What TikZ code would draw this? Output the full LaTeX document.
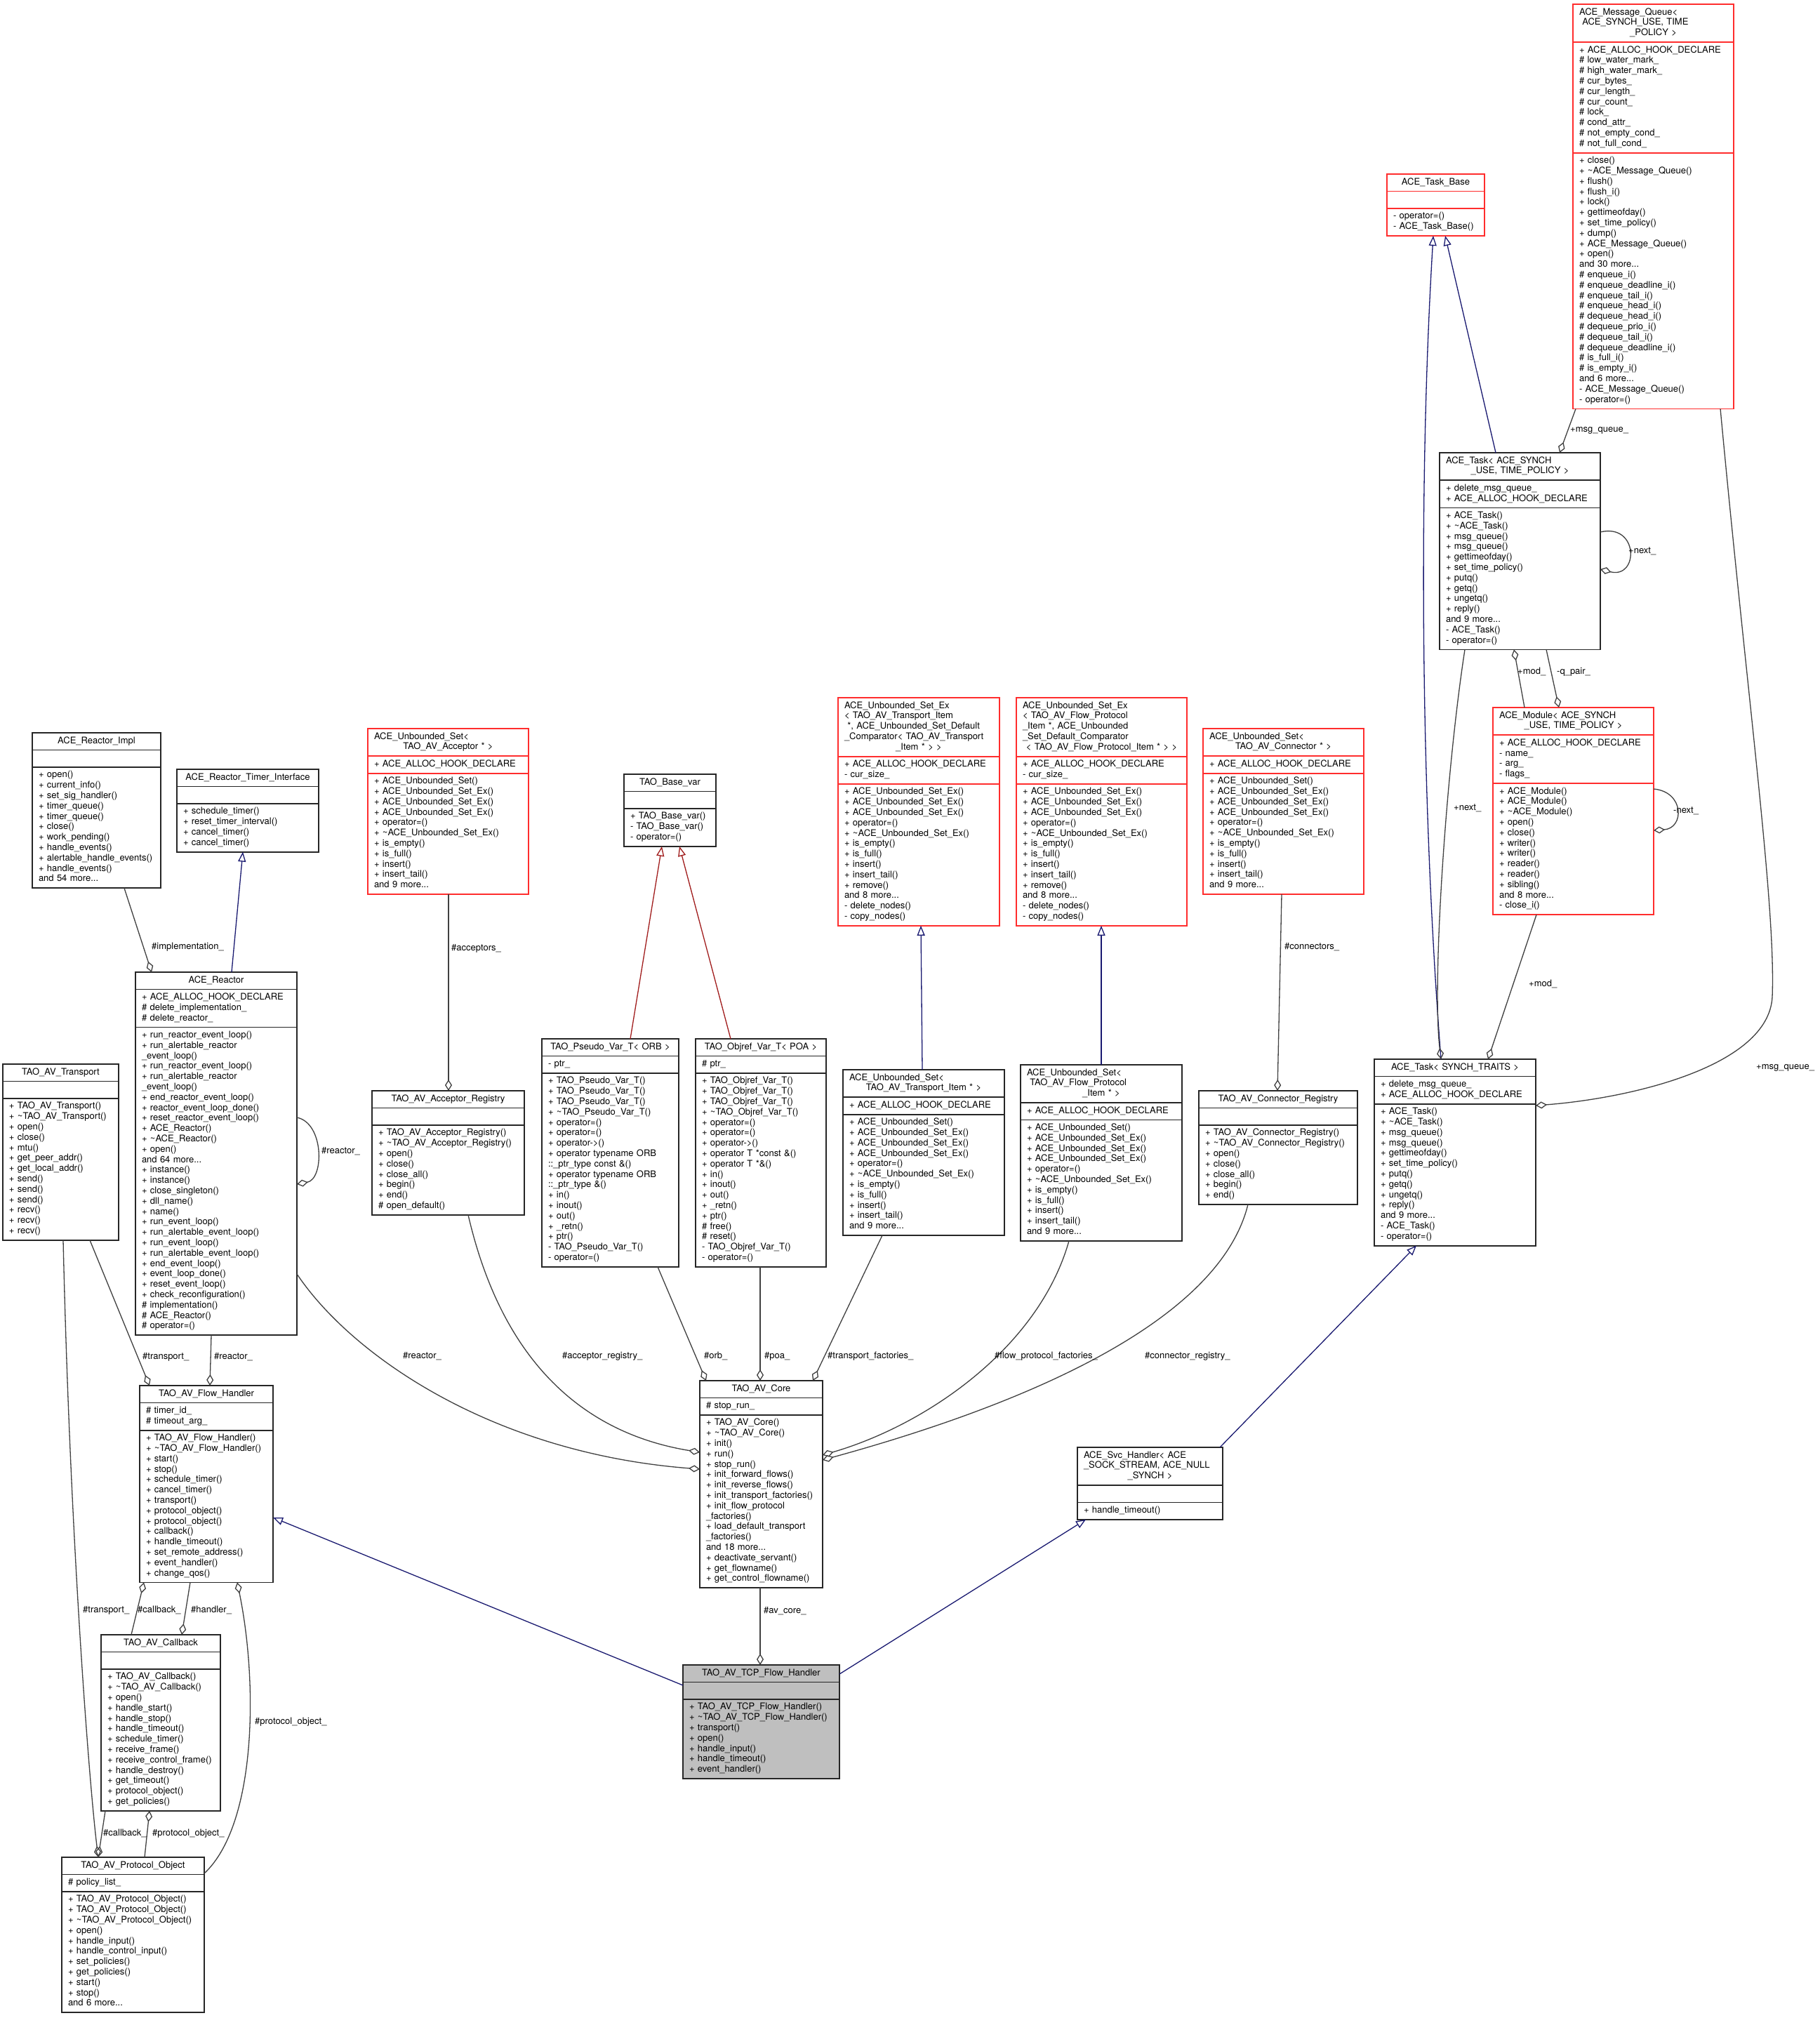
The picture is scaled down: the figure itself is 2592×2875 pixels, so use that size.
\documentclass[tikz,border=0pt]{standalone}
\usepackage{fontspec}
\setmainfont{TeX Gyre Heros}
\usetikzlibrary{arrows.meta,fit}
\definecolor{edgegray}{HTML}{404040}
\definecolor{inhblue}{HTML}{191970}
\definecolor{inhred}{HTML}{A01C1C}
\definecolor{boxred}{HTML}{FF2D2D}
\definecolor{boxline}{HTML}{262626}
\setlength\parindent{0pt}
\newcommand\fs{\fontsize{13}{14.8}\selectfont}
\newcommand\ls[1]{\begin{tabular}{@{}l@{}}#1\end{tabular}}
\newcommand\ti{\hspace*{9pt}}
\tikzset{
  part/.style={draw=boxline, line width=1.8pt, inner xsep=0pt, inner ysep=4.8pt, outer sep=0pt, anchor=north west, font=\fs, align=left},
  tpart/.style={part},
  bpart/.style={part},
  norm/.style={},
  redb/.style={draw=boxred},
  focus/.style={fill=gray!50},
  agg/.style={draw=edgegray, line width=1.3pt, -{Diamond[open,length=16pt,width=10pt]}},
  inh/.style={draw=inhblue, line width=1.3pt, -{Triangle[open,length=14pt,width=11pt]}},
  inhr/.style={inh, draw=inhred},
  lab/.style={font=\fs, inner sep=0pt, anchor=west},
}
% #1 name, #2 x, #3 y, #4 width, #5 style, #6 left title lines (each ending \\), #7 centred last title line, #8 attributes, #9 methods
\newcommand\cls[9]{%
  \node[tpart,#5,text width=#4pt] (#1-t) at (#2,#3) {\ls{#6\makebox[#4pt][c]{#7}}};
  \node[bpart,#5,text width=#4pt] (#1-a) at (#1-t.south west) {\ti\ls{#8}};
  \node[bpart,#5,text width=#4pt] (#1-m) at (#1-a.south west) {\ti\ls{#9}};
  \node[fit=(#1-t)(#1-m),inner sep=0pt,outer sep=0pt] (#1) {};
}
\catcode`\_=12
\catcode`\~=12
\newcommand\taskmeth{+ ACE_Task()\\+ ~ACE_Task()\\+ msg_queue()\\+ msg_queue()\\+ gettimeofday()\\+ set_time_policy()\\+ putq()\\+ getq()\\+ ungetq()\\+ reply()\\and 9 more...\\- ACE_Task()\\- operator=()}
\newcommand\taskattr{+ delete_msg_queue_\\+ ACE_ALLOC_HOOK_DECLARE}
\newcommand\setmeth{+ ACE_Unbounded_Set()\\+ ACE_Unbounded_Set_Ex()\\+ ACE_Unbounded_Set_Ex()\\+ ACE_Unbounded_Set_Ex()\\+ operator=()\\+ ~ACE_Unbounded_Set_Ex()\\+ is_empty()\\+ is_full()\\+ insert()\\+ insert_tail()\\and 9 more...}
\newcommand\setexmeth{+ ACE_Unbounded_Set_Ex()\\+ ACE_Unbounded_Set_Ex()\\+ ACE_Unbounded_Set_Ex()\\+ operator=()\\+ ~ACE_Unbounded_Set_Ex()\\+ is_empty()\\+ is_full()\\+ insert()\\+ insert_tail()\\+ remove()\\and 8 more...\\- delete_nodes()\\- copy_nodes()}
\newcommand\hook{+ ACE_ALLOC_HOOK_DECLARE}
\begin{document}
\begin{tikzpicture}[x=1pt,y=-1pt]
\useasboundingbox (0,0) rectangle (2592,2875);
\fill[white] (0,0) rectangle (2592,2875);

% ---------- classes ----------
\cls{mq}{2241}{6}{229}{redb}{\ti ACE_Message_Queue<\\\ti\ ACE_SYNCH_USE, TIME\\}{_POLICY >}
 {+ ACE_ALLOC_HOOK_DECLARE\\\# low_water_mark_\\\# high_water_mark_\\\# cur_bytes_\\\# cur_length_\\\# cur_count_\\\# lock_\\\# cond_attr_\\\# not_empty_cond_\\\# not_full_cond_}
 {+ close()\\+ ~ACE_Message_Queue()\\+ flush()\\+ flush_i()\\+ lock()\\+ gettimeofday()\\+ set_time_policy()\\+ dump()\\+ ACE_Message_Queue()\\+ open()\\and 30 more...\\\# enqueue_i()\\\# enqueue_deadline_i()\\\# enqueue_tail_i()\\\# enqueue_head_i()\\\# dequeue_head_i()\\\# dequeue_prio_i()\\\# dequeue_tail_i()\\\# dequeue_deadline_i()\\\# is_full_i()\\\# is_empty_i()\\and 6 more...\\- ACE_Message_Queue()\\- operator=()}
\cls{taskbase}{1976}{248}{139}{redb}{}{ACE_Task_Base}{\strut}{- operator=()\\- ACE_Task_Base()}
\cls{taskA}{2051}{645}{229}{norm}{\ti ACE_Task< ACE_SYNCH\\}{_USE, TIME_POLICY >}{\taskattr}{\taskmeth}
\cls{module}{2127}{1008}{229}{redb}{\ti ACE_Module< ACE_SYNCH\\}{_USE, TIME_POLICY >}
 {+ ACE_ALLOC_HOOK_DECLARE\\- name_\\- arg_\\- flags_}
 {+ ACE_Module()\\+ ACE_Module()\\+ ~ACE_Module()\\+ open()\\+ close()\\+ writer()\\+ writer()\\+ reader()\\+ reader()\\+ sibling()\\and 8 more...\\- close_i()}
\cls{taskS}{1958}{1509}{230}{norm}{}{ACE_Task< SYNCH_TRAITS >}{\taskattr}{\taskmeth}
\cls{svc}{1535}{2062}{207}{norm}{\ti ACE_Svc_Handler< ACE\\\ti _SOCK_STREAM, ACE_NULL\\}{_SYNCH >}{\strut}{+ handle_timeout()}
\cls{tcp}{973}{2372}{223}{focus}{}{TAO_AV_TCP_Flow_Handler}{\strut}
 {+ TAO_AV_TCP_Flow_Handler()\\+ ~TAO_AV_TCP_Flow_Handler()\\+ transport()\\+ open()\\+ handle_input()\\+ handle_timeout()\\+ event_handler()}
\cls{core}{997}{1967}{175}{norm}{}{TAO_AV_Core}{\# stop_run_}
 {+ TAO_AV_Core()\\+ ~TAO_AV_Core()\\+ init()\\+ run()\\+ stop_run()\\+ init_forward_flows()\\+ init_reverse_flows()\\+ init_transport_factories()\\+ init_flow_protocol\\_factories()\\+ load_default_transport\\_factories()\\and 18 more...\\+ deactivate_servant()\\+ get_flowname()\\+ get_control_flowname()}
\cls{connreg}{1708}{1554}{226}{norm}{}{TAO_AV_Connector_Registry}{\strut}
 {+ TAO_AV_Connector_Registry()\\+ ~TAO_AV_Connector_Registry()\\+ open()\\+ close()\\+ close_all()\\+ begin()\\+ end()}
\cls{connset}{1714}{1038}{229}{redb}{\ti ACE_Unbounded_Set<\\}{TAO_AV_Connector * >}{\hook}{\setmeth}
\cls{fpex}{1448}{994}{243}{redb}{\ti ACE_Unbounded_Set_Ex\\\ti < TAO_AV_Flow_Protocol\\\ti _Item *, ACE_Unbounded\\\ti _Set_Default_Comparator\\}{< TAO_AV_Flow_Protocol_Item * > >}{\hook\\- cur_size_}{\setexmeth}
\cls{trex}{1194}{994}{230}{redb}{\ti ACE_Unbounded_Set_Ex\\\ti < TAO_AV_Transport_Item\\\ti\ *, ACE_Unbounded_Set_Default\\\ti _Comparator< TAO_AV_Transport\\}{_Item * > >}{\hook\\- cur_size_}{\setexmeth}
\cls{fpset}{1454}{1517}{230}{norm}{\ti ACE_Unbounded_Set<\\\ti\ TAO_AV_Flow_Protocol\\}{_Item * >}{\hook}{\setmeth}
\cls{trset}{1201}{1524}{230}{norm}{\ti ACE_Unbounded_Set<\\}{TAO_AV_Transport_Item * >}{\hook}{\setmeth}
\cls{basevar}{889}{1103}{131}{norm}{}{TAO_Base_var}{\strut}{+ TAO_Base_var()\\- TAO_Base_var()\\- operator=()}
\cls{pseudo}{772}{1480}{195}{norm}{}{TAO_Pseudo_Var_T< ORB >}{- ptr_}
 {+ TAO_Pseudo_Var_T()\\+ TAO_Pseudo_Var_T()\\+ TAO_Pseudo_Var_T()\\+ ~TAO_Pseudo_Var_T()\\+ operator=()\\+ operator=()\\+ operator->()\\+ operator typename ORB\\::_ptr_type const \&()\\+ operator typename ORB\\::_ptr_type \&()\\+ in()\\+ inout()\\+ out()\\+ _retn()\\+ ptr()\\- TAO_Pseudo_Var_T()\\- operator=()}
\cls{objref}{991}{1480}{186}{norm}{}{TAO_Objref_Var_T< POA >}{\# ptr_}
 {+ TAO_Objref_Var_T()\\+ TAO_Objref_Var_T()\\+ TAO_Objref_Var_T()\\+ ~TAO_Objref_Var_T()\\+ operator=()\\+ operator=()\\+ operator->()\\+ operator T *const \&()\\+ operator T *\&()\\+ in()\\+ inout()\\+ out()\\+ _retn()\\+ ptr()\\\# free()\\\# reset()\\- TAO_Objref_Var_T()\\- operator=()}
\cls{accset}{524}{1038}{229}{redb}{\ti ACE_Unbounded_Set<\\}{TAO_AV_Acceptor * >}{\hook}{\setmeth}
\cls{accreg}{530}{1554}{217}{norm}{}{TAO_AV_Acceptor_Registry}{\strut}
 {+ TAO_AV_Acceptor_Registry()\\+ ~TAO_AV_Acceptor_Registry()\\+ open()\\+ close()\\+ close_all()\\+ begin()\\+ end()\\\# open_default()}
\cls{rimpl}{46}{1044}{183}{norm}{}{ACE_Reactor_Impl}{\strut}
 {+ open()\\+ current_info()\\+ set_sig_handler()\\+ timer_queue()\\+ timer_queue()\\+ close()\\+ work_pending()\\+ handle_events()\\+ alertable_handle_events()\\+ handle_events()\\and 54 more...}
\cls{timer}{252}{1096}{202}{norm}{}{ACE_Reactor_Timer_Interface}{\strut}
 {+ schedule_timer()\\+ reset_timer_interval()\\+ cancel_timer()\\+ cancel_timer()}
\cls{reactor}{193}{1385}{230}{norm}{}{ACE_Reactor}
 {+ ACE_ALLOC_HOOK_DECLARE\\\# delete_implementation_\\\# delete_reactor_}
 {+ run_reactor_event_loop()\\+ run_alertable_reactor\\_event_loop()\\+ run_reactor_event_loop()\\+ run_alertable_reactor\\_event_loop()\\+ end_reactor_event_loop()\\+ reactor_event_loop_done()\\+ reset_reactor_event_loop()\\+ ACE_Reactor()\\+ ~ACE_Reactor()\\+ open()\\and 64 more...\\+ instance()\\+ instance()\\+ close_singleton()\\+ dll_name()\\+ name()\\+ run_event_loop()\\+ run_alertable_event_loop()\\+ run_event_loop()\\+ run_alertable_event_loop()\\+ end_event_loop()\\+ event_loop_done()\\+ reset_event_loop()\\+ check_reconfiguration()\\\# implementation()\\\# ACE_Reactor()\\\# operator=()}
\cls{transport}{4}{1516}{165}{norm}{}{TAO_AV_Transport}{\strut}
 {+ TAO_AV_Transport()\\+ ~TAO_AV_Transport()\\+ open()\\+ close()\\+ mtu()\\+ get_peer_addr()\\+ get_local_addr()\\+ send()\\+ send()\\+ send()\\+ recv()\\+ recv()\\+ recv()}
\cls{flow}{199}{1974}{190}{norm}{}{TAO_AV_Flow_Handler}{\# timer_id_\\\# timeout_arg_}
 {+ TAO_AV_Flow_Handler()\\+ ~TAO_AV_Flow_Handler()\\+ start()\\+ stop()\\+ schedule_timer()\\+ cancel_timer()\\+ transport()\\+ protocol_object()\\+ protocol_object()\\+ callback()\\+ handle_timeout()\\+ set_remote_address()\\+ event_handler()\\+ change_qos()}
\cls{callback}{144}{2329}{170}{norm}{}{TAO_AV_Callback}{\strut}
 {+ TAO_AV_Callback()\\+ ~TAO_AV_Callback()\\+ open()\\+ handle_start()\\+ handle_stop()\\+ handle_timeout()\\+ schedule_timer()\\+ receive_frame()\\+ receive_control_frame()\\+ handle_destroy()\\+ get_timeout()\\+ protocol_object()\\+ get_policies()}
\cls{proto}{88}{2646}{203}{norm}{}{TAO_AV_Protocol_Object}{\# policy_list_}
 {+ TAO_AV_Protocol_Object()\\+ TAO_AV_Protocol_Object()\\+ ~TAO_AV_Protocol_Object()\\+ open()\\+ handle_input()\\+ handle_control_input()\\+ set_policies()\\+ get_policies()\\+ start()\\+ stop()\\and 6 more...}

% ---------- inheritance ----------
\draw[inh] (2131,0 |- taskA.north) -- (2059,0 |- taskbase.south);
\draw[inh] (2053,0 |- taskS.north) .. controls (2025,1150) and (2020,700) .. (2042,0 |- taskbase.south);
\draw[inh] (1738,0 |- svc.north) -- (2018,0 |- taskS.south);
\draw[inh] (tcp.east |- 0,2385) -- (1547,0 |- svc.south);
\draw[inh] (tcp.west |- 0,2401) -- (flow.east |- 0,2162);
\draw[inh] (330,0 |- reactor.north) -- (346,0 |- timer.south);
\draw[inh] (1314,0 |- trset.north) -- (1312,0 |- trex.south);
\draw[inh] (1569,0 |- fpset.north) -- (1569,0 |- fpex.south);
\draw[inhr] (898,0 |- pseudo.north) -- (943,0 |- basevar.south);
\draw[inhr] (1041,0 |- objref.north) -- (968,0 |- basevar.south);

% ---------- collaboration ----------
\draw[agg] (2245,0 |- mq.south) -- (2222,0 |- taskA.north);
\draw[agg] (2451,0 |- mq.south) .. controls (2490,1000) and (2530,1290) .. (2525,1420) .. controls (2520,1520) and (2320,1565) .. (taskS.east |- 0,1575);
\draw[agg] (taskA.east |- 0,758) .. controls (2335,745) and (2335,825) .. (taskA.east |- 0,811);
\draw[agg] (2087,0 |- taskA.south) .. controls (2060,1100) and (2040,1400) .. (2053,0 |- taskS.north);
\draw[agg] (2172,0 |- module.north) -- (2157,0 |- taskA.south);
\draw[agg] (2203,0 |- taskA.south) -- (2221,0 |- module.north);
\draw[agg] (module.east |- 0,1124) .. controls (2400,1128) and (2400,1180) .. (module.east |- 0,1183);
\draw[agg] (2189,0 |- module.south) -- (2120,0 |- taskS.north);
\draw[agg] (177,0 |- rimpl.south) -- (216,0 |- reactor.north);
\draw[agg] (reactor.east |- 0,1592) .. controls (462,1600) and (462,1680) .. (reactor.east |- 0,1687);
\draw[agg] (128,0 |- transport.south) -- (213,0 |- flow.north);
\draw[agg] (301,0 |- reactor.south) -- (299,0 |- flow.north);
\draw[agg] (90,0 |- transport.south) .. controls (100,2200) and (128,2550) .. (140,0 |- proto.north);
\draw[agg] (187,0 |- callback.north) -- (205,0 |- flow.south);
\draw[agg] (271,0 |- flow.south) -- (259,0 |- callback.north);
\draw[agg] (proto.east |- 0,2669) .. controls (365,2600) and (368,2400) .. (338,0 |- flow.south);
\draw[agg] (150,0 |- callback.south) -- (140,0 |- proto.north);
\draw[agg] (206,0 |- proto.north) -- (213,0 |- callback.south);
\draw[agg] (639,0 |- accset.south) -- (639,0 |- accreg.north);
\draw[agg] (1826,0 |- connset.south) -- (1820,0 |- connreg.north);
\draw[agg] (reactor.east |- 0,1815) .. controls (500,1930) and (700,2070) .. (core.west |- 0,2093);
\draw[agg] (667,0 |- accreg.south) .. controls (720,1960) and (850,2045) .. (core.west |- 0,2069);
\draw[agg] (937,0 |- pseudo.south) -- (1006,0 |- core.north);
\draw[agg] (1083,0 |- objref.south) -- (1083,0 |- core.north);
\draw[agg] (1257,0 |- trset.south) -- (1158,0 |- core.north);
\draw[agg] (1523,0 |- fpset.south) .. controls (1480,1920) and (1320,2030) .. (core.east |- 0,2073);
\draw[agg] (1778,0 |- connreg.south) .. controls (1740,1870) and (1500,1990) .. (core.east |- 0,2080);
\draw[agg] (1083,0 |- core.south) -- (1083,0 |- tcp.north);

% ---------- labels ----------
\node[lab] (l1) at (2237,613) {+msg_queue_};
\node[lab] (l2) at (2502,1521) {+msg_queue_};
\node[lab] (l3) at (2320,785) {+next_};
\node[lab] (l4) at (2071,1151) {+next_};
\node[lab] (l5) at (2162,957) {+mod_};
\node[lab] (l6) at (2218,957) {-q_pair_};
\node[lab] (l7) at (2384,1155) {-next_};
\node[lab] (l8) at (2178,1402) {+mod_};
\node[lab] (l9) at (216,1349) {\#implementation_};
\node[lab] (l10) at (458,1640) {\#reactor_};
\node[lab] (l11) at (203,1933) {\#transport_};
\node[lab] (l12) at (305,1933) {\#reactor_};
\node[lab] (l13) at (118,2294) {\#transport_};
\node[lab] (l14) at (196,2294) {\#callback_};
\node[lab] (l15) at (272,2294) {\#handler_};
\node[lab] (l16) at (363,2453) {\#protocol_object_};
\node[lab] (l17) at (147,2612) {\#callback_};
\node[lab] (l18) at (217,2612) {\#protocol_object_};
\node[lab] (l19) at (643,1351) {\#acceptors_};
\node[lab] (l20) at (1830,1349) {\#connectors_};
\node[lab] (l21) at (574,1932) {\#reactor_};
\node[lab] (l22) at (801,1932) {\#acceptor_registry_};
\node[lab] (l23) at (1003,1932) {\#orb_};
\node[lab] (l24) at (1089,1932) {\#poa_};
\node[lab] (l25) at (1179,1932) {\#transport_factories_};
\node[lab] (l26) at (1417,1932) {\#flow_protocol_factories_};
\node[lab] (l27) at (1631,1932) {\#connector_registry_};
\node[lab] (l28) at (1088,2295) {\#av_core_};
\end{tikzpicture}
\end{document}
